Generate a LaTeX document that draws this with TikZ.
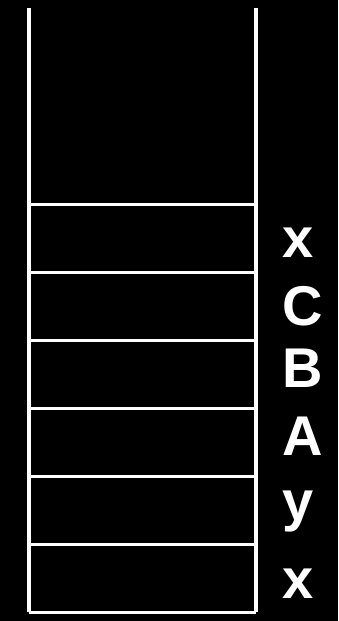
\documentclass[tikz,border=0pt]{standalone}
\usepackage{fontspec}
\setmainfont{Liberation Sans}
\usetikzlibrary{positioning}

\begin{document}
\begin{tikzpicture}[
    x=1pt,y=-1pt,
    wall/.style={draw=white,line width=3.5pt},
    slot/.style={draw=white,line width=3pt},
    entry/.style={anchor=base west,text=white,inner sep=0pt,
      font=\fontsize{56}{60}\selectfont\bfseries}
  ]
    % Background
    \fill[black] (0,0) rectangle (338,621);
    \useasboundingbox (0,0) rectangle (338,621);
    % Stack walls
    \coordinate (tl) at (29,8);
    \coordinate (tr) at (256,8);
    \coordinate (bl) at (29,612);
    \coordinate (br) at (256,612);
    \draw[wall] (tl) -- (bl);
    \draw[wall] (tr) -- (br);
    % Slots (bottom up)
    \foreach \i/\y in {0/612, 1/544, 2/476, 3/408, 4/340, 5/272, 6/204} {
      \coordinate (l\i) at (29,\y);
      \coordinate (r\i) at (256,\y);
      \draw[slot] (l\i) -- (r\i);
    }
    % Entries
    \foreach \i/\t/\y in {0/x/598, 1/y/520, 2/A/455, 3/B/387, 4/C/325, 5/x/257} {
      \node[entry] (e\i) at (282,\y) {\t};
    }
  \end{tikzpicture}
\end{document}
